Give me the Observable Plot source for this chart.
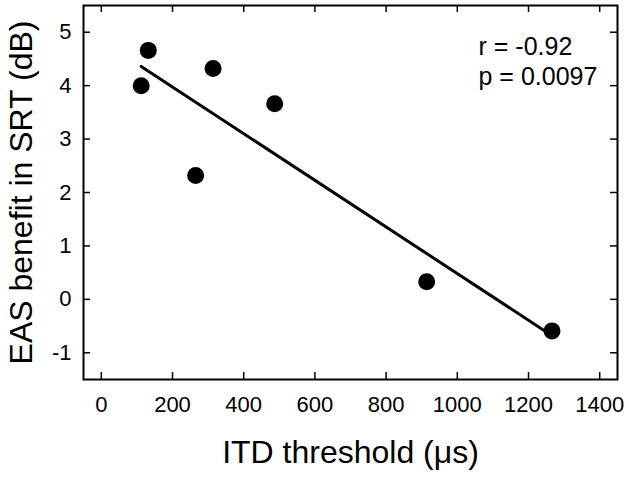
<!DOCTYPE html>
<html>
<head>
<meta charset="utf-8">
<script src="https://cdn.jsdelivr.net/npm/d3@7"></script>
<script src="https://cdn.jsdelivr.net/npm/@observablehq/plot@0.6"></script>
<style>
  html, body { margin: 0; padding: 0; background: #fff; }
  svg { display: block; }
</style>
</head>
<body>
<div id="chart"></div>
<script>
const itdThreshold = [112, 132, 265, 314, 487, 914, 1266];
const easBenefit   = [4.0, 4.66, 2.32, 4.32, 3.66, 0.33, -0.59];
const xTicks = [0, 200, 400, 600, 800, 1000, 1200, 1400];
const yTicks = [-1, 0, 1, 2, 3, 4, 5];
const statsText = ["r = -0.92", "p = 0.0097"];
const xTitle = "ITD threshold (\u03BCs)";
const yTitle = "EAS benefit in SRT (dB)";

const data = itdThreshold.map((x, i) => ({x, y: easBenefit[i]}));

const W = 629, H = 478;
const mL = 83, mR = 12, mT = 5, mB = 99;
const pw = W - mL - mR, ph = H - mT - mB;
const font = "'Liberation Sans', Arial, Helvetica, sans-serif";
const tickLen = 7;
const fmt = d => String(d);

const chart = Plot.plot({
  width: W,
  height: H,
  marginLeft: mL,
  marginRight: mR,
  marginTop: mT,
  marginBottom: mB,
  style: {fontFamily: font, background: "#fff", color: "#000"},
  x: {domain: [-50, 1450]},
  y: {domain: [-1.5, 5.5]},
  marks: [
    Plot.axisX(xTicks, {anchor: "bottom", tickSize: 0, tickPadding: 17, fontSize: 22, label: null, tickFormat: fmt}),
    Plot.axisY(yTicks, {anchor: "left", tickSize: 0, tickPadding: 12, fontSize: 22, label: null, tickFormat: fmt}),
    // inward ticks on all four sides
    Plot.tickX(xTicks, {x: d => d, insetTop: ph - tickLen, stroke: "black", strokeWidth: 1.5}),
    Plot.tickX(xTicks, {x: d => d, insetBottom: ph - tickLen, stroke: "black", strokeWidth: 1.5}),
    Plot.tickY(yTicks, {y: d => d, insetRight: pw - tickLen, stroke: "black", strokeWidth: 1.5}),
    Plot.tickY(yTicks, {y: d => d, insetLeft: pw - tickLen, stroke: "black", strokeWidth: 1.5}),
    Plot.frame({stroke: "black", strokeWidth: 2}),
    Plot.linearRegressionY(data, {x: "x", y: "y", ci: 0, stroke: "black", strokeWidth: 3}),
    Plot.dot(data, {x: "x", y: "y", r: 8.5, fill: "black", stroke: "none"}),
    Plot.text([statsText.join("\n")], {
      text: d => d, frameAnchor: "top-left", dx: 395, dy: 29,
      textAnchor: "start", lineAnchor: "top", lineHeight: 1.18,
      fontSize: 25, fill: "black"
    }),
    Plot.text([xTitle], {
      text: d => d, frameAnchor: "bottom", dy: 73, lineAnchor: "middle", textAnchor: "middle",
      fontSize: 32, fill: "black"
    }),
    Plot.text([yTitle], {
      text: d => d, frameAnchor: "left", dx: -62, rotate: -90, lineAnchor: "middle", textAnchor: "middle",
      fontSize: 32, fill: "black"
    })
  ]
});
document.getElementById("chart").appendChild(chart);
</script>
</body>
</html>
